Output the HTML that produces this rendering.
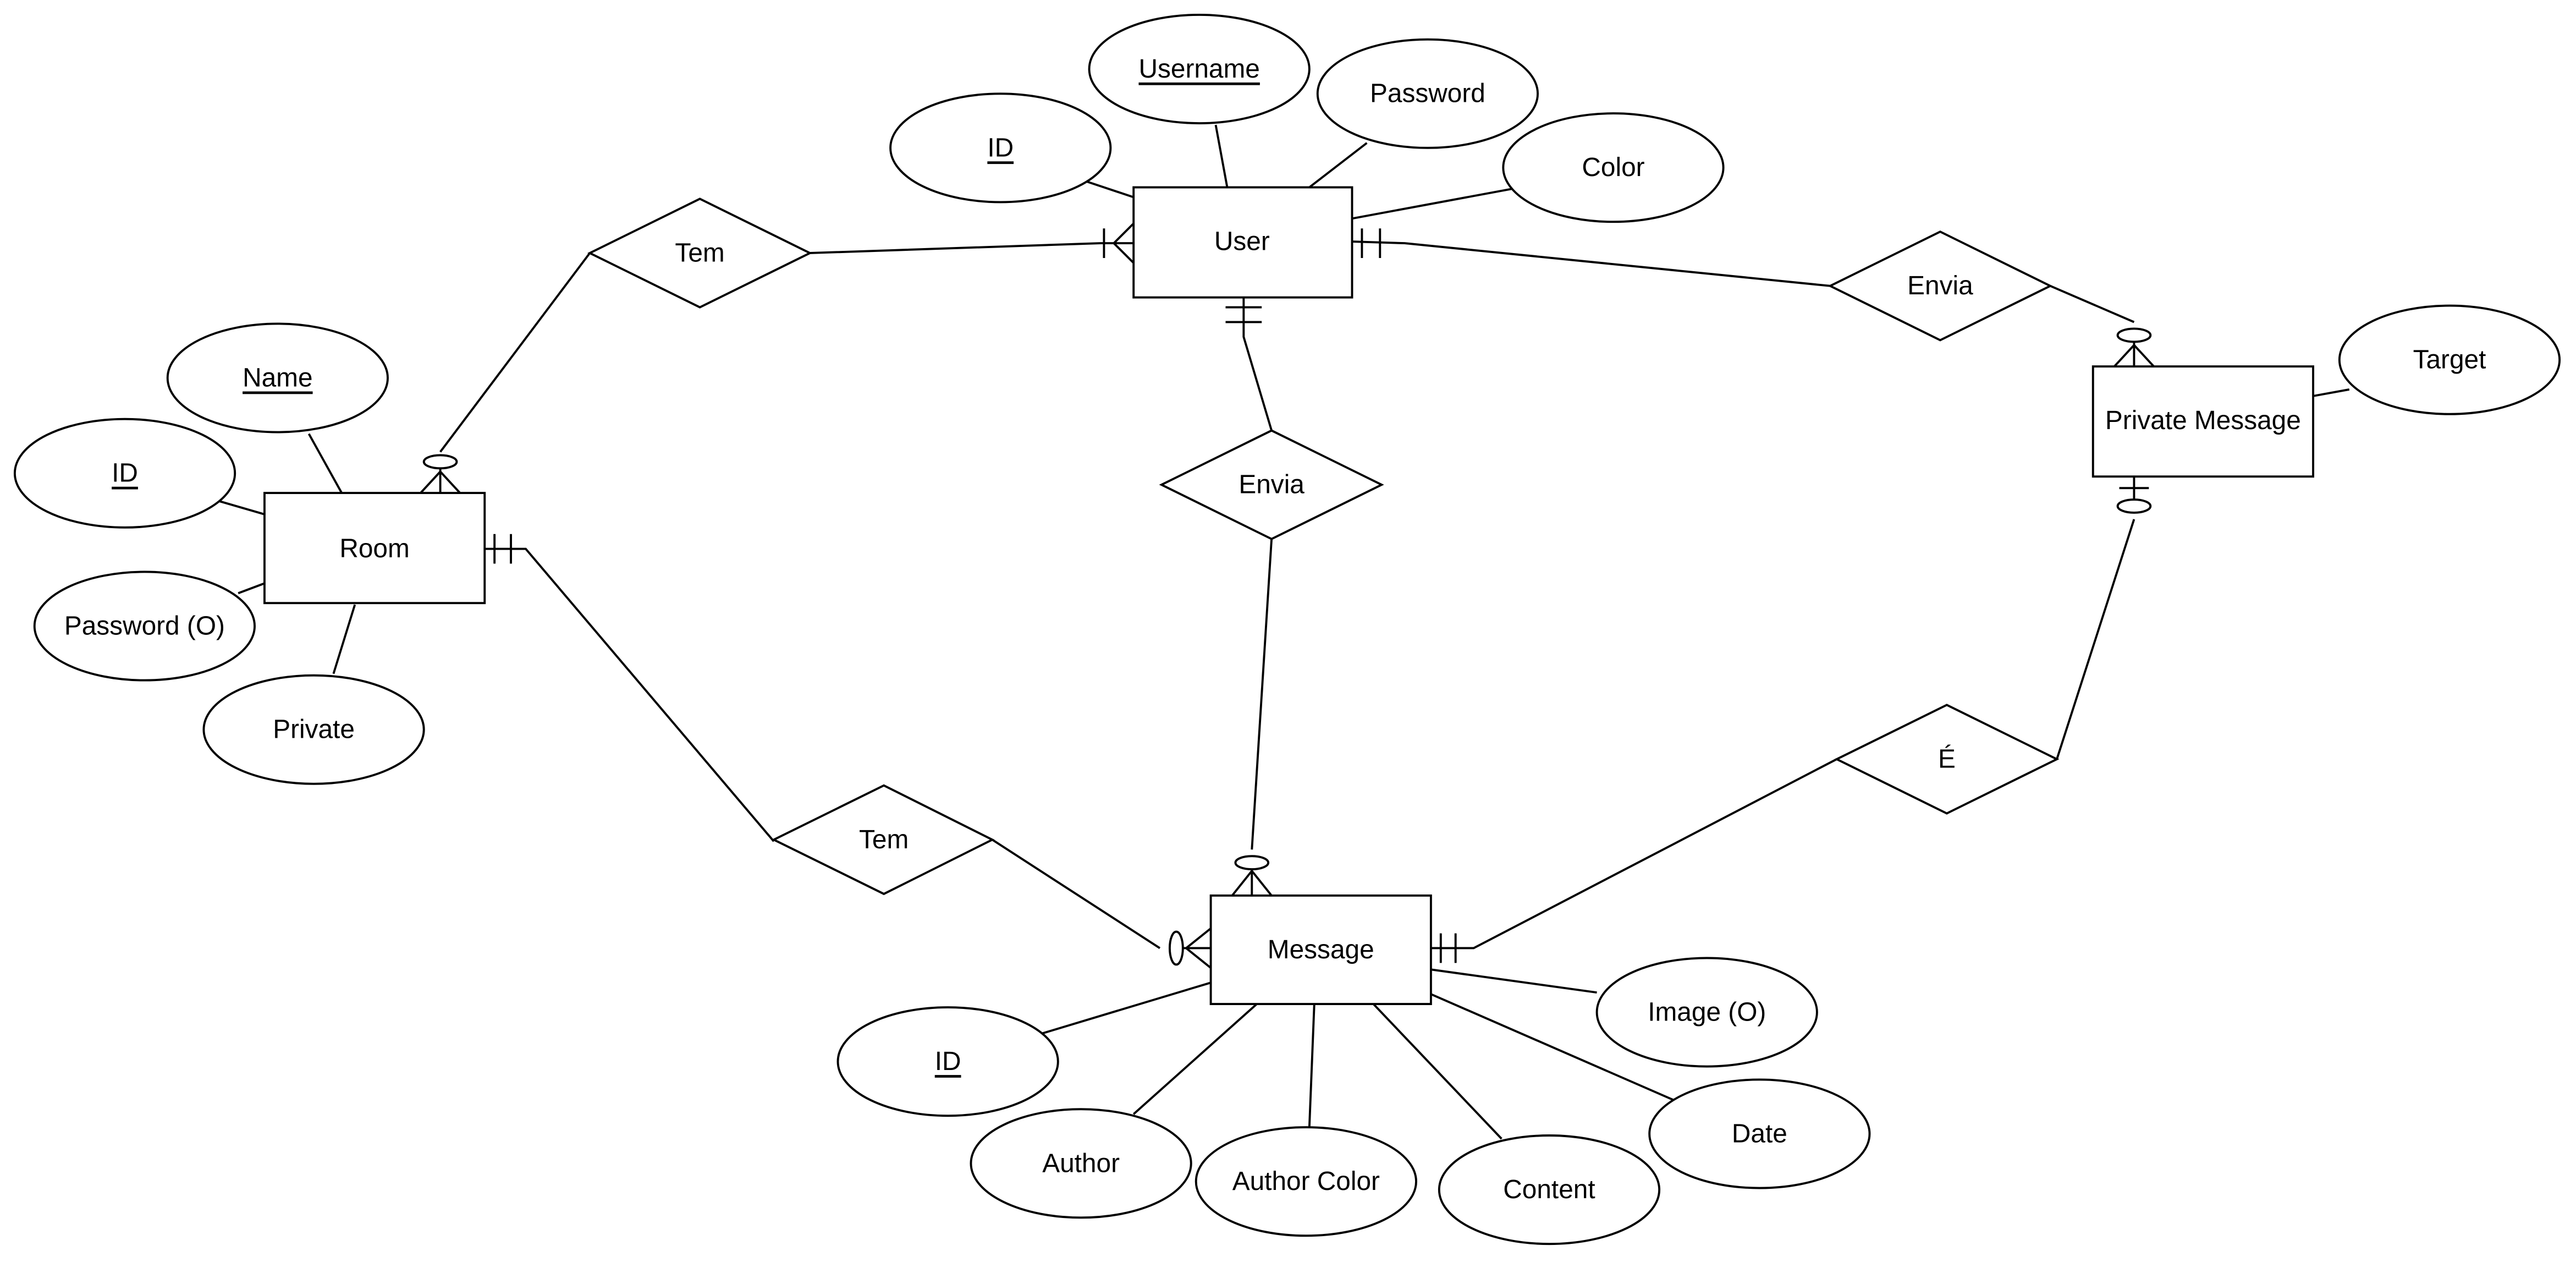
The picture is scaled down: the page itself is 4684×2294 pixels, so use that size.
<!DOCTYPE html>
<html><head><meta charset="utf-8"><style>html,body{margin:0;padding:0;background:#fff}svg{display:block}</style></head>
<body>
<svg xmlns="http://www.w3.org/2000/svg" width="4684" height="2294" viewBox="0 0 1568 768" preserveAspectRatio="none">
<g fill="none" stroke="#000" stroke-width="1.3">
<!-- attribute lines -->
<line x1="660" y1="110" x2="690" y2="120"/>
<line x1="740" y1="76" x2="747" y2="114"/>
<line x1="832" y1="87" x2="797" y2="114"/>
<line x1="920" y1="115" x2="823" y2="133"/>
<line x1="188" y1="264" x2="208" y2="300"/>
<line x1="130" y1="304" x2="161" y2="313"/>
<line x1="145" y1="361" x2="161" y2="355"/>
<line x1="203" y1="410" x2="216" y2="368"/>
<line x1="1430" y1="237" x2="1408" y2="241"/>
<line x1="634" y1="629" x2="737" y2="598"/>
<line x1="690" y1="678" x2="765" y2="611"/>
<line x1="797" y1="686" x2="800" y2="611"/>
<line x1="914" y1="693" x2="836" y2="611"/>
<line x1="1020" y1="670" x2="871" y2="605"/>
<line x1="972" y1="604" x2="871" y2="590"/>
<!-- relationships -->
<polyline points="359,154 268,275"/>
<ellipse cx="268" cy="281" rx="10" ry="4"/>
<line x1="268" y1="285" x2="268" y2="300"/><polyline points="256,300 268,287 280,300"/>
<polyline points="493,154 670,148 690,148"/>
<line x1="672" y1="139" x2="672" y2="157"/><polyline points="690,136 678,148 690,160"/>
<polyline points="823,147 855,148 1114,174"/>
<line x1="829" y1="139" x2="829" y2="157"/><line x1="840" y1="139" x2="840" y2="157"/>
<polyline points="1248,174 1299,196"/>
<ellipse cx="1299" cy="204" rx="10" ry="4"/>
<line x1="1299" y1="208" x2="1299" y2="223"/><polyline points="1287,223 1299,210 1311,223"/>
<polyline points="757,181 757,205 774,262"/>
<line x1="746" y1="187" x2="768" y2="187"/><line x1="746" y1="196" x2="768" y2="196"/>
<polyline points="774,328 762,517"/>
<ellipse cx="762" cy="525" rx="10" ry="4"/>
<line x1="762" y1="529" x2="762" y2="545"/><polyline points="750,545 762,530 774,545"/>
<polyline points="295,334 320,334 471,512"/>
<line x1="301" y1="325" x2="301" y2="343"/><line x1="311" y1="325" x2="311" y2="343"/>
<polyline points="604,511 706,577"/>
<ellipse cx="716" cy="577" rx="4" ry="10"/>
<line x1="720" y1="577" x2="737" y2="577"/><polyline points="737,565 722,577 737,589"/>
<polyline points="871,577 897,577 1118,462"/>
<line x1="877" y1="568" x2="877" y2="586"/><line x1="886" y1="568" x2="886" y2="586"/>
<polyline points="1252,462 1299,316"/>
<ellipse cx="1299" cy="308" rx="10" ry="4"/>
<line x1="1299" y1="304" x2="1299" y2="290"/><line x1="1290" y1="297" x2="1308" y2="297"/>
</g>
<g fill="#fff" stroke="#000" stroke-width="1.3">
<rect x="690" y="114" width="133" height="67"/>
<rect x="161" y="300" width="134" height="67"/>
<rect x="737" y="545" width="134" height="66"/>
<rect x="1274" y="223" width="134" height="67"/>
<polygon points="359,154 426,121 493,154 426,187"/>
<polygon points="1114,174 1181,141 1248,174 1181,207"/>
<polygon points="707,295 774,262 841,295 774,328"/>
<polygon points="471,511 538,478 604,511 538,544"/>
<polygon points="1118,462 1185,429 1252,462 1185,495"/>
<ellipse cx="730" cy="42" rx="67" ry="33"/>
<ellipse cx="869" cy="57" rx="67" ry="33"/>
<ellipse cx="609" cy="90" rx="67" ry="33"/>
<ellipse cx="982" cy="102" rx="67" ry="33"/>
<ellipse cx="169" cy="230" rx="67" ry="33"/>
<ellipse cx="76" cy="288" rx="67" ry="33"/>
<ellipse cx="88" cy="381" rx="67" ry="33"/>
<ellipse cx="191" cy="444" rx="67" ry="33"/>
<ellipse cx="1491" cy="219" rx="67" ry="33"/>
<ellipse cx="577" cy="646" rx="67" ry="33"/>
<ellipse cx="658" cy="708" rx="67" ry="33"/>
<ellipse cx="795" cy="719" rx="67" ry="33"/>
<ellipse cx="943" cy="724" rx="67" ry="33"/>
<ellipse cx="1071" cy="690" rx="67" ry="33"/>
<ellipse cx="1039" cy="616" rx="67" ry="33"/>
</g>
<g font-family="Liberation Sans, Arial, sans-serif" font-size="16" text-anchor="middle" dominant-baseline="central" fill="#000">
<text x="756" y="147">User</text>
<text x="228" y="334">Room</text>
<text x="804" y="578">Message</text>
<text x="1341" y="256">Private Message</text>
<text x="426" y="154">Tem</text>
<text x="1181" y="174">Envia</text>
<text x="774" y="295">Envia</text>
<text x="538" y="511">Tem</text>
<text x="1185" y="462">É</text>
<text x="730" y="42" text-decoration="underline">Username</text>
<text x="869" y="57">Password</text>
<text x="609" y="90" text-decoration="underline">ID</text>
<text x="982" y="102">Color</text>
<text x="169" y="230" text-decoration="underline">Name</text>
<text x="76" y="288" text-decoration="underline">ID</text>
<text x="88" y="381">Password (O)</text>
<text x="191" y="444">Private</text>
<text x="1491" y="219">Target</text>
<text x="577" y="646" text-decoration="underline">ID</text>
<text x="658" y="708">Author</text>
<text x="795" y="719">Author Color</text>
<text x="943" y="724">Content</text>
<text x="1071" y="690">Date</text>
<text x="1039" y="616">Image (O)</text>
</g>
</svg>
</body></html>
